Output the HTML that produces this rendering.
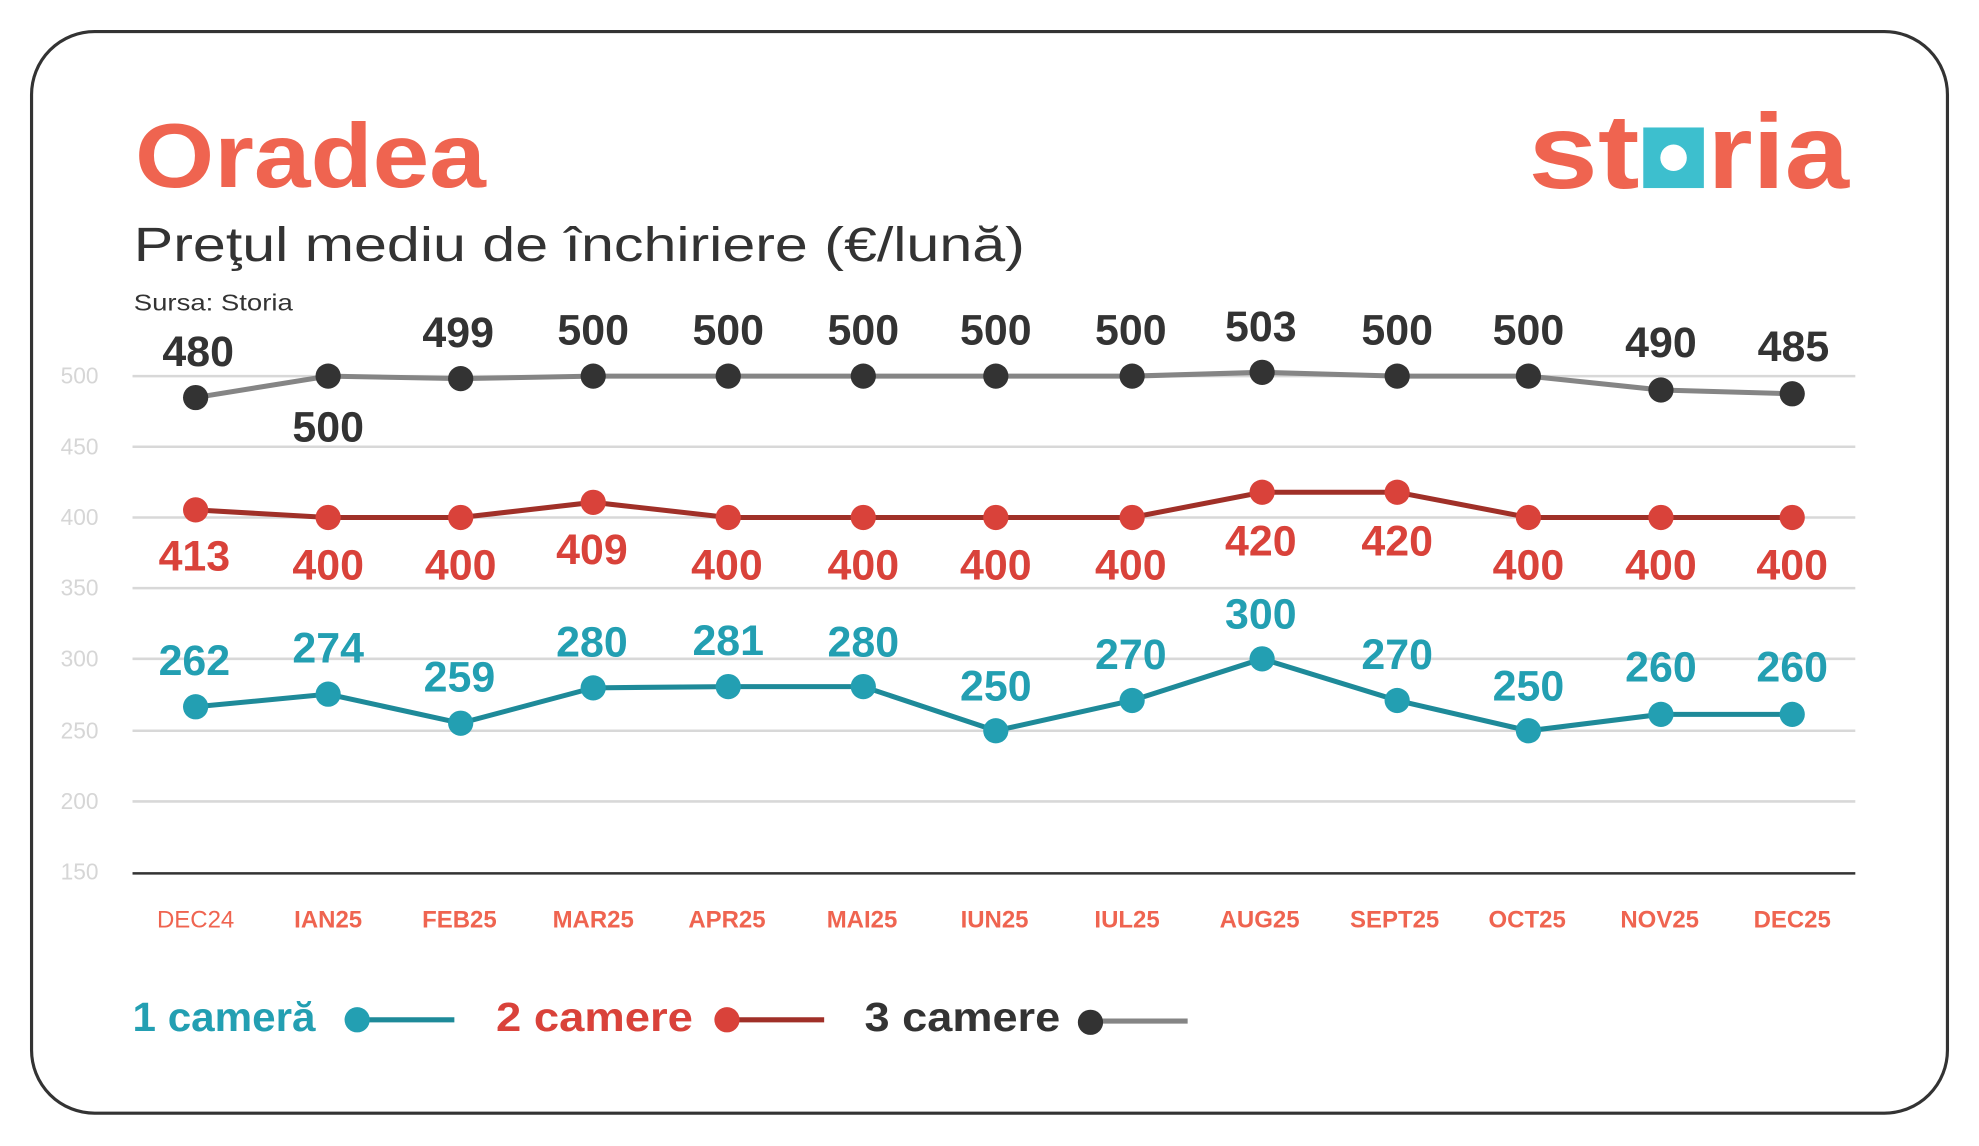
<!DOCTYPE html>
<html><head><meta charset="utf-8"><style>
html,body{margin:0;padding:0;background:#fff}
svg{display:block}
text{font-family:"Liberation Sans",sans-serif}
</style></head><body>
<svg width="1979" height="1146" viewBox="0 0 1568 908" preserveAspectRatio="none" xmlns="http://www.w3.org/2000/svg">
<rect x="0" y="0" width="1568" height="908" fill="#fff"/>
<rect x="25" y="25" width="1518" height="857" rx="50" fill="#fff" stroke="#333" stroke-width="2.5"/>
<text x="107" y="148" font-size="72" font-weight="bold" fill="#ef6450" textLength="278" lengthAdjust="spacingAndGlyphs">Oradea</text>
<text x="106" y="207" font-size="38" fill="#333" textLength="706" lengthAdjust="spacingAndGlyphs">Preţul mediu de închiriere (€/lună)</text>
<text x="106" y="246" font-size="18" fill="#333" textLength="126" lengthAdjust="spacingAndGlyphs">Sursa: Storia</text>
<!-- logo -->
<text x="1211" y="149" font-size="84" font-weight="bold" fill="#ef6450" textLength="88" lengthAdjust="spacingAndGlyphs">st</text>
<rect x="1302" y="101" width="48" height="48" fill="#3dbfce"/>
<circle cx="1326" cy="125" r="10.5" fill="#fff"/>
<text x="1353" y="149" font-size="84" font-weight="bold" fill="#ef6450" textLength="112" lengthAdjust="spacingAndGlyphs">ria</text>
<!-- grid -->
<g stroke="#d8d8d8" stroke-width="2">
<line x1="105" y1="298" x2="1470" y2="298"/><line x1="105" y1="354" x2="1470" y2="354"/>
<line x1="105" y1="410" x2="1470" y2="410"/><line x1="105" y1="466" x2="1470" y2="466"/>
<line x1="105" y1="522" x2="1470" y2="522"/><line x1="105" y1="579" x2="1470" y2="579"/>
<line x1="105" y1="635" x2="1470" y2="635"/>
</g>
<line x1="105" y1="692" x2="1470" y2="692" stroke="#333" stroke-width="2"/>
<g font-size="18" fill="#d6d6d6">
<text x="48" y="304">500</text><text x="48" y="360">450</text><text x="48" y="416">400</text><text x="48" y="472">350</text><text x="48" y="528">300</text><text x="48" y="585">250</text><text x="48" y="641">200</text><text x="48" y="697">150</text>
</g>
<g font-size="19" fill="#ef6450" font-weight="bold" text-anchor="middle">
<text x="155" y="735" font-weight="normal">DEC24</text><text x="260" y="735">IAN25</text><text x="364" y="735">FEB25</text><text x="470" y="735">MAR25</text><text x="576" y="735">APR25</text><text x="683" y="735">MAI25</text><text x="788" y="735">IUN25</text><text x="893" y="735">IUL25</text><text x="998" y="735">AUG25</text><text x="1105" y="735">SEPT25</text><text x="1210" y="735">OCT25</text><text x="1315" y="735">NOV25</text><text x="1420" y="735">DEC25</text>
</g>
<!-- 3 camere -->
<polyline fill="none" stroke="#858585" stroke-width="4" points="155,315 260,298 365,300 470,298 577,298 684,298 789,298 897,298 1000,295 1107,298 1211,298 1316,309 1420,312"/>
<g fill="#333"><circle cx="155" cy="315" r="10"/><circle cx="260" cy="298" r="10"/><circle cx="365" cy="300" r="10"/><circle cx="470" cy="298" r="10"/><circle cx="577" cy="298" r="10"/><circle cx="684" cy="298" r="10"/><circle cx="789" cy="298" r="10"/><circle cx="897" cy="298" r="10"/><circle cx="1000" cy="295" r="10"/><circle cx="1107" cy="298" r="10"/><circle cx="1211" cy="298" r="10"/><circle cx="1316" cy="309" r="10"/><circle cx="1420" cy="312" r="10"/></g>
<g font-size="34" font-weight="bold" fill="#333" text-anchor="middle">
<text x="157" y="290">480</text><text x="260" y="350">500</text><text x="363" y="275">499</text><text x="470" y="273">500</text><text x="577" y="273">500</text><text x="684" y="273">500</text><text x="789" y="273">500</text><text x="896" y="273">500</text><text x="999" y="270">503</text><text x="1107" y="273">500</text><text x="1211" y="273">500</text><text x="1316" y="283">490</text><text x="1421" y="286">485</text>
</g>
<!-- 2 camere -->
<polyline fill="none" stroke="#a03028" stroke-width="4" points="155,404 260,410 365,410 470,398 577,410 684,410 789,410 897,410 1000,390 1107,390 1211,410 1316,410 1420,410"/>
<g fill="#d9423a"><circle cx="155" cy="404" r="10"/><circle cx="260" cy="410" r="10"/><circle cx="365" cy="410" r="10"/><circle cx="470" cy="398" r="10"/><circle cx="577" cy="410" r="10"/><circle cx="684" cy="410" r="10"/><circle cx="789" cy="410" r="10"/><circle cx="897" cy="410" r="10"/><circle cx="1000" cy="390" r="10"/><circle cx="1107" cy="390" r="10"/><circle cx="1211" cy="410" r="10"/><circle cx="1316" cy="410" r="10"/><circle cx="1420" cy="410" r="10"/></g>
<g font-size="34" font-weight="bold" fill="#d9423a" text-anchor="middle">
<text x="154" y="452">413</text><text x="260" y="459">400</text><text x="365" y="459">400</text><text x="469" y="447">409</text><text x="576" y="459">400</text><text x="684" y="459">400</text><text x="789" y="459">400</text><text x="896" y="459">400</text><text x="999" y="440">420</text><text x="1107" y="440">420</text><text x="1211" y="459">400</text><text x="1316" y="459">400</text><text x="1420" y="459">400</text>
</g>
<!-- 1 camera -->
<polyline fill="none" stroke="#1e8a99" stroke-width="4" points="155,560 260,550 365,573 470,545 577,544 684,544 789,579 897,555 1000,522 1107,555 1211,579 1316,566 1420,566"/>
<g fill="#239fb2"><circle cx="155" cy="560" r="10"/><circle cx="260" cy="550" r="10"/><circle cx="365" cy="573" r="10"/><circle cx="470" cy="545" r="10"/><circle cx="577" cy="544" r="10"/><circle cx="684" cy="544" r="10"/><circle cx="789" cy="579" r="10"/><circle cx="897" cy="555" r="10"/><circle cx="1000" cy="522" r="10"/><circle cx="1107" cy="555" r="10"/><circle cx="1211" cy="579" r="10"/><circle cx="1316" cy="566" r="10"/><circle cx="1420" cy="566" r="10"/></g>
<g font-size="34" font-weight="bold" fill="#239fb2" text-anchor="middle">
<text x="154" y="535">262</text><text x="260" y="525">274</text><text x="364" y="548">259</text><text x="469" y="520">280</text><text x="577" y="519">281</text><text x="684" y="520">280</text><text x="789" y="555">250</text><text x="896" y="530">270</text><text x="999" y="498">300</text><text x="1107" y="530">270</text><text x="1211" y="555">250</text><text x="1316" y="540">260</text><text x="1420" y="540">260</text>
</g>
<!-- legend -->
<text x="105" y="817" font-size="32" font-weight="bold" fill="#239fb2" textLength="145" lengthAdjust="spacingAndGlyphs">1 cameră</text>
<line x1="283" y1="808" x2="360" y2="808" stroke="#1e8a99" stroke-width="4"/><circle cx="283" cy="808" r="10" fill="#239fb2"/>
<text x="393" y="817" font-size="32" font-weight="bold" fill="#d9423a" textLength="156" lengthAdjust="spacingAndGlyphs">2 camere</text>
<line x1="576" y1="808" x2="653" y2="808" stroke="#a03028" stroke-width="4"/><circle cx="576" cy="808" r="10" fill="#d9423a"/>
<text x="685" y="817" font-size="32" font-weight="bold" fill="#333" textLength="155" lengthAdjust="spacingAndGlyphs">3 camere</text>
<line x1="864" y1="809" x2="941" y2="809" stroke="#858585" stroke-width="4"/><circle cx="864" cy="810" r="10" fill="#333"/>
</svg>
</body></html>
